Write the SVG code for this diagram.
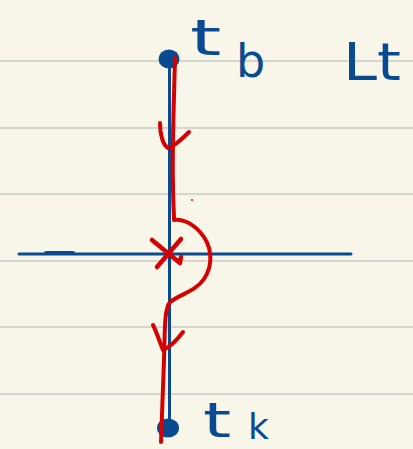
<svg xmlns="http://www.w3.org/2000/svg" width="413" height="449" viewBox="0 0 413 449">
<style>
.rule{stroke:#d6d6d0;stroke-width:2}
.blue{stroke:#0a4a90;stroke-width:3;fill:none;stroke-linecap:round}
.red{stroke:#d50000;stroke-width:4;fill:none;stroke-linecap:round;stroke-linejoin:round}
.lbl{font-family:"DejaVu Sans","Liberation Sans",sans-serif;fill:#0a4a90}
</style>
<rect width="413" height="449" fill="#f8f6e9"/>
<g id="rules">
<line class="rule" x1="0" y1="61" x2="413" y2="61"/>
<line class="rule" x1="0" y1="128" x2="413" y2="128"/>
<line class="rule" x1="0" y1="194" x2="413" y2="194"/>
<line class="rule" x1="0" y1="261" x2="413" y2="261"/>
<line class="rule" x1="0" y1="327" x2="413" y2="327"/>
<line class="rule" x1="0" y1="394" x2="413" y2="394"/>
</g>
<g id="axes">
<line class="blue" x1="169.5" y1="55" x2="169.5" y2="428"/>
<line class="blue" x1="19" y1="254" x2="351" y2="254"/>
<line class="blue" x1="46" y1="253" x2="73" y2="253" style="stroke-width:4"/>
</g>
<g id="node-tb">
<ellipse cx="169" cy="59" rx="10.5" ry="9.5" fill="#0a4a90"/>
<text class="lbl" x="190" y="55" font-size="50" transform="translate(190 0) scale(1.6 1) translate(-190 0)">t</text>
<text class="lbl" x="236" y="77" font-size="46">b</text>
</g>
<g id="node-tk">
<ellipse cx="168" cy="428" rx="11" ry="9.5" fill="#0a4a90"/>
<text class="lbl" x="203" y="437" font-size="48" transform="translate(203 0) scale(1.5 1) translate(-203 0)">t</text>
<text class="lbl" x="248" y="439" font-size="36">k</text>
</g>
<g id="label-Lt">
<text class="lbl" x="343" y="80" font-size="52" textLength="58" lengthAdjust="spacingAndGlyphs">Lt</text>
</g>
<g id="connectors">
<path class="red" d="M175,58 C174,100 172,150 173,185 C173,200 174,212 174,220 C180,219 190,221 200,232 C212,245 214,264 204,279 C195,292 180,294 170,302 C164,310 165,330 164,360 C163,390 162,420 161,442"/>
<path class="red" d="M160,123 C160,135 163,145 168,148 C174,147 183,138 189,132"/>
<path class="red" d="M153,325 C157,333 160,343 163,350 C170,347 177,340 183,332"/>
<path class="red" d="M152,240 L180,263 L181,257" style="stroke-width:4.5"/>
<path class="red" d="M181,239 L157,267" style="stroke-width:4.5"/>
<circle cx="192" cy="200" r="1" fill="#d50000"/>
</g>
</svg>
